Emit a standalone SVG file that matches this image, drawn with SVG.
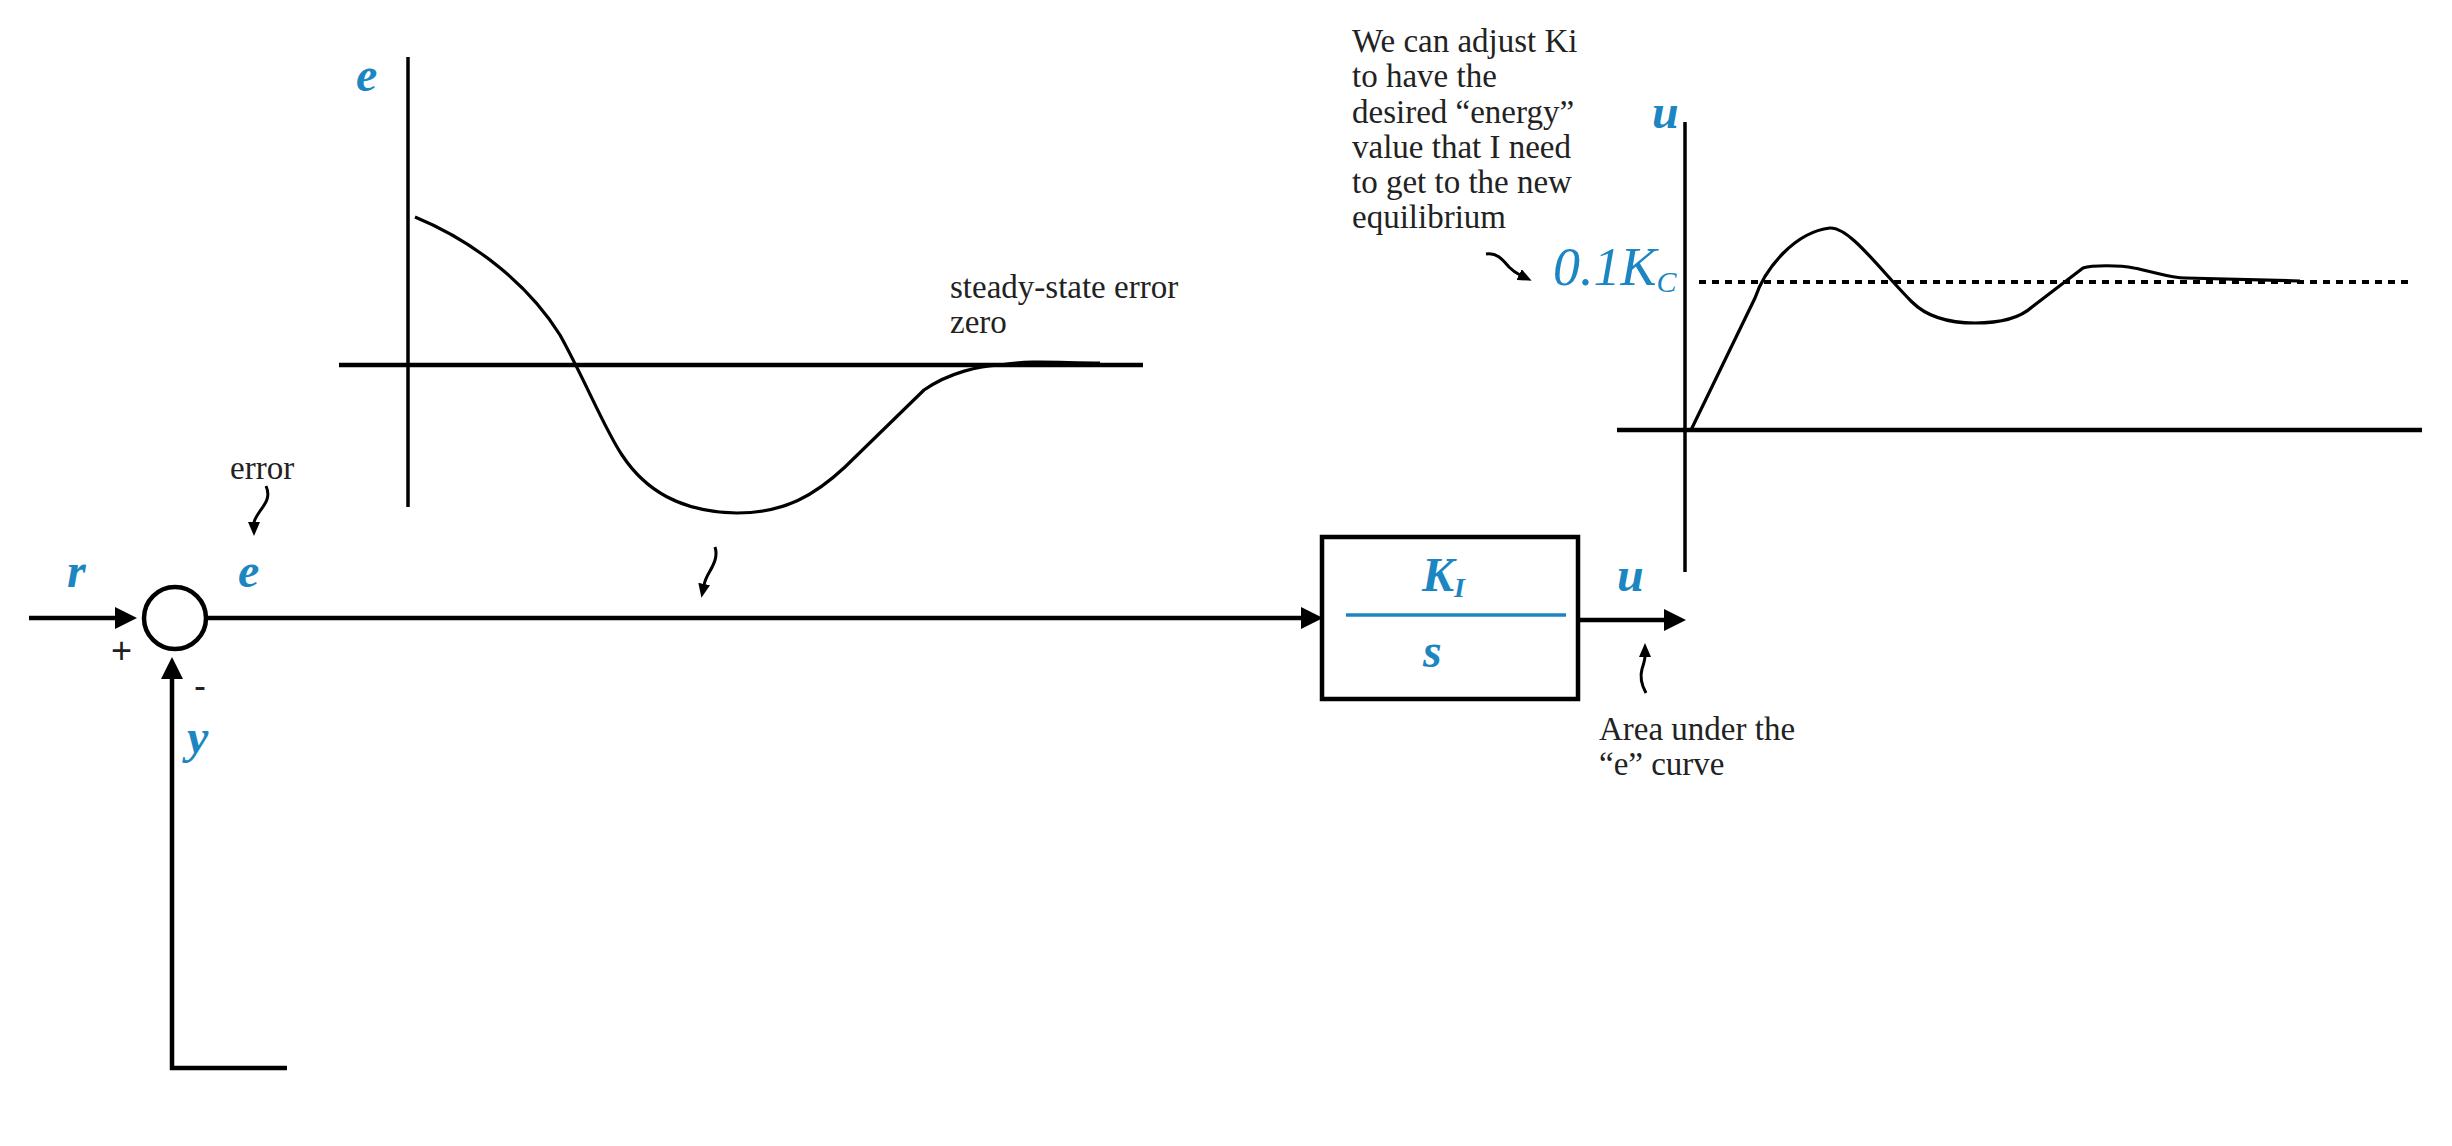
<svg xmlns="http://www.w3.org/2000/svg" width="2452" height="1146" viewBox="0 0 2452 1146">
<style>
.ln{fill:none;stroke:#000;stroke-width:4.5}
.ax{fill:none;stroke:#000;stroke-width:3.5}
.cv{fill:none;stroke:#000;stroke-width:3.2;stroke-linejoin:round}
.sq{fill:none;stroke:#000;stroke-width:3}
.note{font-family:"Liberation Serif","Times New Roman",serif;font-size:33px;fill:#222}
.sym{font-family:"Liberation Serif","Times New Roman",serif;font-style:italic;font-weight:bold;font-size:48px;fill:#1b86c1}
.val{font-family:"Liberation Serif","Times New Roman",serif;font-style:italic;font-size:54px;fill:#1b86c1}
.sign{font-family:"Liberation Sans",Arial,sans-serif;font-size:36px;fill:#222}
</style>
<defs>
<marker id="big" markerUnits="userSpaceOnUse" markerWidth="22" markerHeight="22" refX="0" refY="11" orient="auto">
<path d="M0,0 L22,11 L0,22 z" fill="#000"/>
</marker>
<marker id="small" markerUnits="userSpaceOnUse" markerWidth="14" markerHeight="12" refX="1" refY="6" orient="auto">
<path d="M0,0 L14,6 L0,12 z" fill="#000"/>
</marker>
</defs>
<rect width="2452" height="1146" fill="#fff"/>

<g id="connectors">
<line class="ln" x1="29" y1="618" x2="115" y2="618" marker-end="url(#big)"/>
<line class="ln" x1="207" y1="618" x2="1301" y2="618" marker-end="url(#big)"/>
<line class="ln" x1="1580" y1="620" x2="1664" y2="620" marker-end="url(#big)"/>
<polyline class="ln" points="287,1068 172,1068 172,679" marker-end="url(#big)"/>
</g>

<g id="sum-junction">
<circle cx="175" cy="618" r="31" fill="none" stroke="#000" stroke-width="4.5"/>
<text class="sign" x="111" y="663">+</text>
<text class="sign" x="194" y="698">-</text>
</g>

<g id="labels">
<text class="sym" x="67" y="587">r</text>
<text class="sym" x="238" y="587">e</text>
<text class="sym" x="187" y="753">y</text>
<text class="sym" x="1617" y="591">u</text>
</g>

<g id="integrator">
<rect x="1322" y="537" width="256" height="162" fill="#fff" stroke="#000" stroke-width="4.5"/>
<text class="sym" x="1422" y="591">K<tspan font-size="28" dy="6">I</tspan></text>
<line x1="1346" y1="615" x2="1566" y2="615" stroke="#1b86c1" stroke-width="3.5"/>
<text class="sym" x="1423" y="667">s</text>
</g>

<g id="error-plot">
<line class="ax" x1="408" y1="57" x2="408" y2="507"/>
<line class="ln" x1="339" y1="365" x2="1143" y2="365" stroke-width="4"/>
<text class="sym" x="356" y="91" font-weight="normal" font-size="52">e</text>
<path class="cv" d="M415,217 C478,243 530,287 560,335 C585,380 605,430 622,455 C645,490 680,512 737,513 C785,513 815,495 845,467 L924,390 C950,372 980,366 1000,365 C1030,360 1060,363 1100,363"/>
<text class="note" x="950" y="298">steady-state error</text>
<text class="note" x="950" y="333">zero</text>
</g>

<g id="control-plot">
<line class="ax" x1="1685" y1="122" x2="1685" y2="572"/>
<line class="ln" x1="1617" y1="430" x2="2422" y2="430" stroke-width="4"/>
<line x1="1699" y1="282" x2="2413" y2="282" stroke="#000" stroke-width="4" stroke-dasharray="7 6"/>
<text class="sym" x="1652" y="128">u</text>
<text class="val" x="1553" y="285">0.1K<tspan font-size="30" dy="7">C</tspan></text>
<path class="cv" d="M1691,430 L1755,298 C1765,268 1795,232 1830,228 C1850,227 1880,270 1912,302 C1925,315 1945,323 1975,323 C2000,323 2020,318 2032,307 L2083,268 C2092,265 2120,265 2134,268 C2155,272 2170,278 2186,278 L2300,281"/>
</g>

<g id="annotations">
<text class="note" x="230" y="479">error</text>
<path class="sq" d="M266,486 C271,497 265,504 260,511 C256,517 254,520 254,523" marker-end="url(#small)"/>
<path class="sq" d="M715,547 C718,556 714,564 710,571 C707,576 705,580 704,585" marker-end="url(#small)"/>
<path class="sq" d="M1646,693 C1641,684 1640,676 1642,669 C1644,663 1645,660 1645,656" marker-end="url(#small)"/>
<text class="note" x="1599" y="740">Area under the</text>
<text class="note" x="1599" y="775">“e” curve</text>
<text class="note" x="1352" y="52">We can adjust Ki</text>
<text class="note" x="1352" y="87">to have the</text>
<text class="note" x="1352" y="123">desired “energy”</text>
<text class="note" x="1352" y="158">value that I need</text>
<text class="note" x="1352" y="193">to get to the new</text>
<text class="note" x="1352" y="228">equilibrium</text>
<path class="sq" d="M1486,254 C1497,252 1503,260 1509,267 C1513,271 1516,273 1520,275" marker-end="url(#small)"/>
</g>
</svg>
